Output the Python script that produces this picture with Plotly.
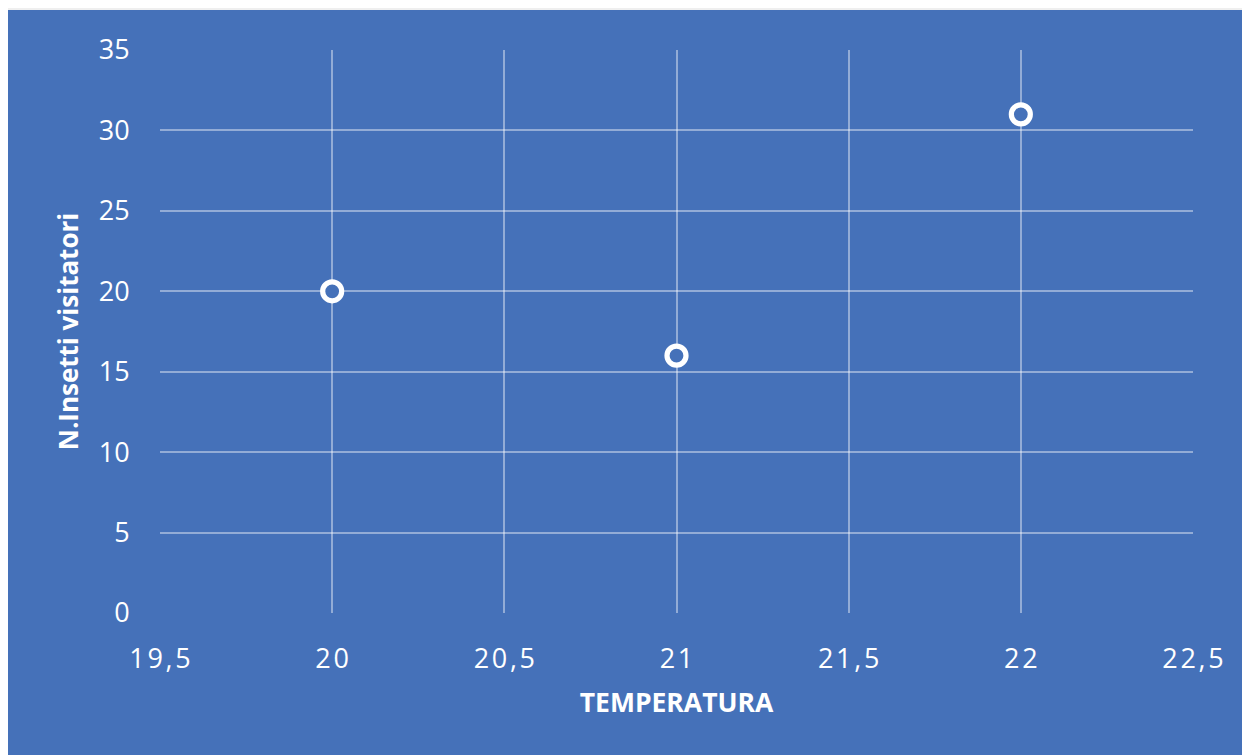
import plotly.graph_objects as go

temperatura = [20, 21, 22]
insetti = [20, 16, 31]
x_ticks = [19.5, 20, 20.5, 21, 21.5, 22, 22.5]
x_labels = ["19,5", "20", "20,5", "21", "21,5", "22", "22,5"]
y_ticks = [0, 5, 10, 15, 20, 25, 30, 35]
y_labels = ["0", "5", "10", "15", "20", "25", "30", "35"]

BLUE = "#4571b9"
GRAY = "#efefef"
GRID = "rgba(255,255,255,0.42)"
FONT = "Open Sans"

spaced = ["\u200a".join(list(s)) for s in x_labels]

fig = go.Figure()
fig.add_trace(go.Scatter(
    x=temperatura, y=insetti, mode="markers",
    marker=dict(symbol="circle", size=19, color=BLUE, line=dict(width=5.2, color="white")),
    showlegend=False,
))

fig.update_layout(
    width=1242, height=747,
    margin=dict(l=152, r=57, t=42, b=142),
    paper_bgcolor=BLUE, plot_bgcolor=BLUE,
    separators=", ",
    font=dict(family=FONT, color="white"),
    xaxis=dict(
        range=[19.5, 22.5], tickvals=x_ticks, ticktext=spaced,
        showgrid=True, gridcolor=GRID, gridwidth=1.5, zeroline=False,
        showline=False, ticks="outside", ticklen=22, tickcolor="rgba(0,0,0,0)",
        tickfont=dict(size=27, color="white", family=FONT),
        title=dict(text="<b>TEMPERATURA</b>", font=dict(size=26.5, color="white", family=FONT), standoff=18),
    ),
    yaxis=dict(
        range=[0, 35], tickvals=y_ticks, ticktext=y_labels,
        showgrid=True, gridcolor=GRID, gridwidth=1.5, zeroline=False,
        showline=False, ticks="outside", ticklen=24, tickcolor="rgba(0,0,0,0)",
        tickfont=dict(size=27, color="white", family=FONT),
        title=dict(text="<b>N.Insetti visitatori</b>", font=dict(size=26, color="white", family=FONT), standoff=12),
    ),
    shapes=[
        dict(type="rect", xref="paper", yref="paper", x0=-0.2, x1=1.1, y0=1.0711, y1=1.2,
             fillcolor=GRAY, line=dict(width=0), layer="above"),
    ],
)

fig.write_html("out.html")
